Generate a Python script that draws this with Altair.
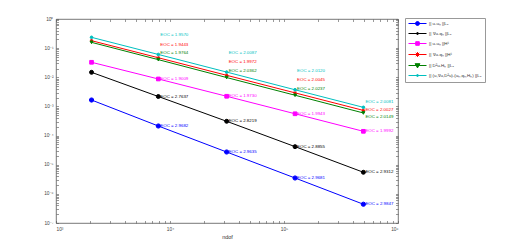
import altair as alt
import pandas as pd

# ---------------- data ----------------
ndof = [2050, 7900, 31400, 125000, 497000]

series = [
    "|| u-uₕ ||L₂",
    "|| ∇u-qₕ ||L₂",
    "|| u-uₕ ||H¹",
    "|| ∇u-qₕ ||H¹",
    "|| D²u-Hₕ ||L₂",
    "|| (u,∇u,D²u)-(uₕ,qₕ,Hₕ) ||L₂",
]
colors = ["#0000ff", "#000000", "#ff00ff", "#ff0000", "#008000", "#00bfbf"]

err_u_l2 = [1.66e-3, 2.13e-4, 2.73e-5, 3.50e-6, 4.40e-7]
err_grad_l2 = [1.48e-2, 2.19e-3, 3.09e-4, 4.17e-5, 5.50e-6]
err_u_h1 = [3.27e-2, 8.75e-3, 2.23e-3, 5.60e-4, 1.40e-4]
err_grad_h1 = [0.180, 4.68e-2, 1.17e-2, 2.92e-3, 7.30e-4]
err_hess_l2 = [0.158, 4.03e-2, 9.80e-3, 2.42e-3, 5.97e-4]
err_total = [0.235, 6.07e-2, 1.51e-2, 3.73e-3, 9.30e-4]

eoc_u_l2 = ["2.9682", "2.9635", "2.9681", "2.9847"]
eoc_grad_l2 = ["2.7637", "2.8219", "2.8855", "2.9312"]
eoc_u_h1 = ["1.9009", "1.9730", "1.9943", "1.9992"]
eoc_grad_h1 = ["1.9443", "1.9972", "2.0045", "2.0027"]
eoc_hess_l2 = ["1.9764", "2.0362", "2.0237", "2.0149"]
eoc_total = ["1.9570", "2.0087", "2.0120", "2.0081"]

errs = [err_u_l2, err_grad_l2, err_u_h1, err_grad_h1, err_hess_l2, err_total]
eocs = [eoc_u_l2, eoc_grad_l2, eoc_u_h1, eoc_grad_h1, eoc_hess_l2, eoc_total]

# ---------------- tables ----------------
rows = []
for s, e in zip(series, errs):
    for n, v in zip(ndof, e):
        rows.append({"series": s, "ndof": n, "err": v})
df = pd.DataFrame(rows)

lab_rows = []
for s, e, q in zip(series, errs, eocs):
    for i, t in enumerate(q):
        lab_rows.append({"series": s, "ndof": ndof[i + 1], "err": e[i + 1],
                         "text": f"EOC = {t}", "grp": "last" if i == 3 else "mid"})
dfl = pd.DataFrame(lab_rows)

FONT = "Liberation Sans"
AX = "#555555"

sup = {"0": "⁰", "1": "¹", "2": "²", "3": "³", "4": "⁴", "5": "⁵",
       "6": "⁶", "7": "⁷", "8": "⁸", "9": "⁹", "-": "⁻"}
ex = "round(log(datum.value)/LN10)"
label_expr = " : ".join(
    f"{ex}=={k} ? '10{''.join(sup[c] for c in str(k))}'" for k in range(-8, 8)
) + " : ''"

x_major = [10.0 ** k for k in range(3, 7)]
y_major = [10.0 ** k for k in range(-7, 1)]
x_all = [m * 10.0 ** k for k in range(3, 6) for m in range(1, 10)] + [1e6]
y_all = [m * 10.0 ** k for k in range(-7, 0) for m in range(1, 10)] + [1.0]

xs = alt.Scale(type="log", domain=[1e3, 1e6], nice=False)
ys = alt.Scale(type="log", domain=[1e-7, 1], nice=False)
cs = alt.Scale(domain=series, range=colors)

# ---------------- main lines with labelled axes ----------------
lines = alt.Chart(df).mark_line(strokeWidth=1, clip=False).encode(
    x=alt.X("ndof:Q", scale=xs, title="ndof",
            axis=alt.Axis(orient="bottom", values=x_major, labelExpr=label_expr,
                          ticks=False, domain=False, grid=False, labelFont=FONT,
                          labelFontSize=4.8, labelColor="#444", labelPadding=3,
                          titleFont=FONT, titleFontSize=5.5, titleFontWeight="normal",
                          titleColor="#333", titlePadding=4)),
    y=alt.Y("err:Q", scale=ys, title=None,
            axis=alt.Axis(orient="left", values=y_major, labelExpr=label_expr,
                          ticks=False, domain=False, grid=False, labelFont=FONT,
                          labelFontSize=4.8, labelColor="#444", labelPadding=3)),
    color=alt.Color("series:N", scale=cs, legend=None),
    detail="series:N",
)

shape_range = ["circle", "circle", "square",
               "M-1,0L1,0M0,-1L0,1M-0.7,-0.7L0.7,0.7M-0.7,0.7L0.7,-0.7",
               "triangle-down", "circle"]
size_range = [18, 7, 14, 22, 20, 7]

points = alt.Chart(df).mark_point(filled=True, opacity=1, strokeWidth=1, clip=False).encode(
    x=alt.X("ndof:Q", scale=xs, axis=None),
    y=alt.Y("err:Q", scale=ys, axis=None),
    fill=alt.Fill("series:N", scale=alt.Scale(domain=series, range=colors), legend=None),
    stroke=alt.Stroke("series:N", scale=alt.Scale(domain=series, range=colors), legend=None),
    shape=alt.Shape("series:N", scale=alt.Scale(domain=series, range=shape_range), legend=None),
    size=alt.Size("series:N", scale=alt.Scale(domain=series, range=size_range), legend=None),
)

# ---------------- EOC labels ----------------
def text_layer(data, dy):
    return alt.Chart(data).mark_text(align="left", baseline="middle", dx=2, dy=dy,
                                     font=FONT, fontSize=4.4, clip=False).encode(
        x=alt.X("ndof:Q", scale=xs, axis=None),
        y=alt.Y("err:Q", scale=ys, axis=None),
        text="text:N",
        color=alt.Color("series:N", scale=cs, legend=None),
    )

label_layers = [text_layer(dfl[dfl.series.isin(series[:3])], 0)]
mid_dy = {series[5]: -19, series[3]: -13, series[4]: -6.5}
last_dy = {series[5]: -5.5, series[3]: -0.5, series[4]: 4.5}
for s in series[3:]:
    label_layers.append(text_layer(dfl[(dfl.series == s) & (dfl.grp == "mid")], mid_dy[s]))
    label_layers.append(text_layer(dfl[(dfl.series == s) & (dfl.grp == "last")], last_dy[s]))

# ---------------- inward ticks (bottom/left and top/right) ----------------
TK = 2.5
def tick_axis(orient, values):
    return alt.Axis(orient=orient, values=values, labels=False, domain=False, grid=False,
                    ticks=True, tickSize=TK, offset=-TK, tickColor=AX, tickWidth=0.6,
                    title=None)

ticks_bl = alt.Chart(df).transform_filter("false").mark_point().encode(
    x=alt.X("ndof:Q", scale=xs, axis=tick_axis("bottom", x_all)),
    y=alt.Y("err:Q", scale=ys, axis=tick_axis("left", y_all)),
)
ticks_tr = alt.Chart(df).transform_filter("false").mark_point().encode(
    x=alt.X("ndof:Q", scale=xs, axis=tick_axis("top", x_all)),
    y=alt.Y("err:Q", scale=ys, axis=tick_axis("right", y_all)),
)

# ---------------- legend (line + marker symbols) ----------------
leg_paths = [
    "M-1,0L8,0M2.5,0A1,1 0 1,0 4.5,0A1,1 0 1,0 2.5,0Z",
    "M-1,0L8,0M3,0A0.5,0.5 0 1,0 4,0A0.5,0.5 0 1,0 3,0Z",
    "M-1,0L8,0M2.6,-0.9L4.4,-0.9L4.4,0.9L2.6,0.9Z",
    "M-1,0L8,0M2.3,0L4.7,0M3.5,-1.2L3.5,1.2M2.65,-0.85L4.35,0.85M2.65,0.85L4.35,-0.85",
    "M-1,0L8,0M2.3,-0.9L4.7,-0.9L3.5,1.2Z",
    "M-1,0L8,0M3,0A0.5,0.5 0 1,0 4,0A0.5,0.5 0 1,0 3,0Z",
]
leg = alt.Legend(orient="none", legendX=349, legendY=-1, title=None, symbolSize=16,
                 symbolStrokeWidth=1, labelFont=FONT, labelFontSize=4.4,
                 labelColor="#333", labelOffset=16, rowPadding=2, padding=3,
                 strokeColor="#999", fillColor="white", labelLimit=200)
legend_layer = alt.Chart(df).transform_filter("false").mark_point(
    filled=True, opacity=1, strokeWidth=1).encode(
    x=alt.X("ndof:Q", scale=xs, axis=None),
    y=alt.Y("err:Q", scale=ys, axis=None),
    fill=alt.Fill("series:N", scale=alt.Scale(domain=series, range=colors), legend=leg),
    stroke=alt.Stroke("series:N", scale=alt.Scale(domain=series, range=colors), legend=leg),
    shape=alt.Shape("series:N", scale=alt.Scale(domain=series, range=leg_paths), legend=leg),
)

chart = alt.layer(lines, points, *label_layers, ticks_bl, ticks_tr, legend_layer).resolve_axis(
    x="independent", y="independent"
).resolve_scale(
    shape="independent", fill="independent", stroke="independent"
).properties(
    width=342, height=204,
    autosize=alt.AutoSizeParams(type="none"),
    padding={"left": 48, "top": 11, "right": 121, "bottom": 20},
).configure_view(
    stroke=AX, strokeWidth=0.8
)

chart.save("out.html", embed_options={"renderer": "svg", "actions": False})
